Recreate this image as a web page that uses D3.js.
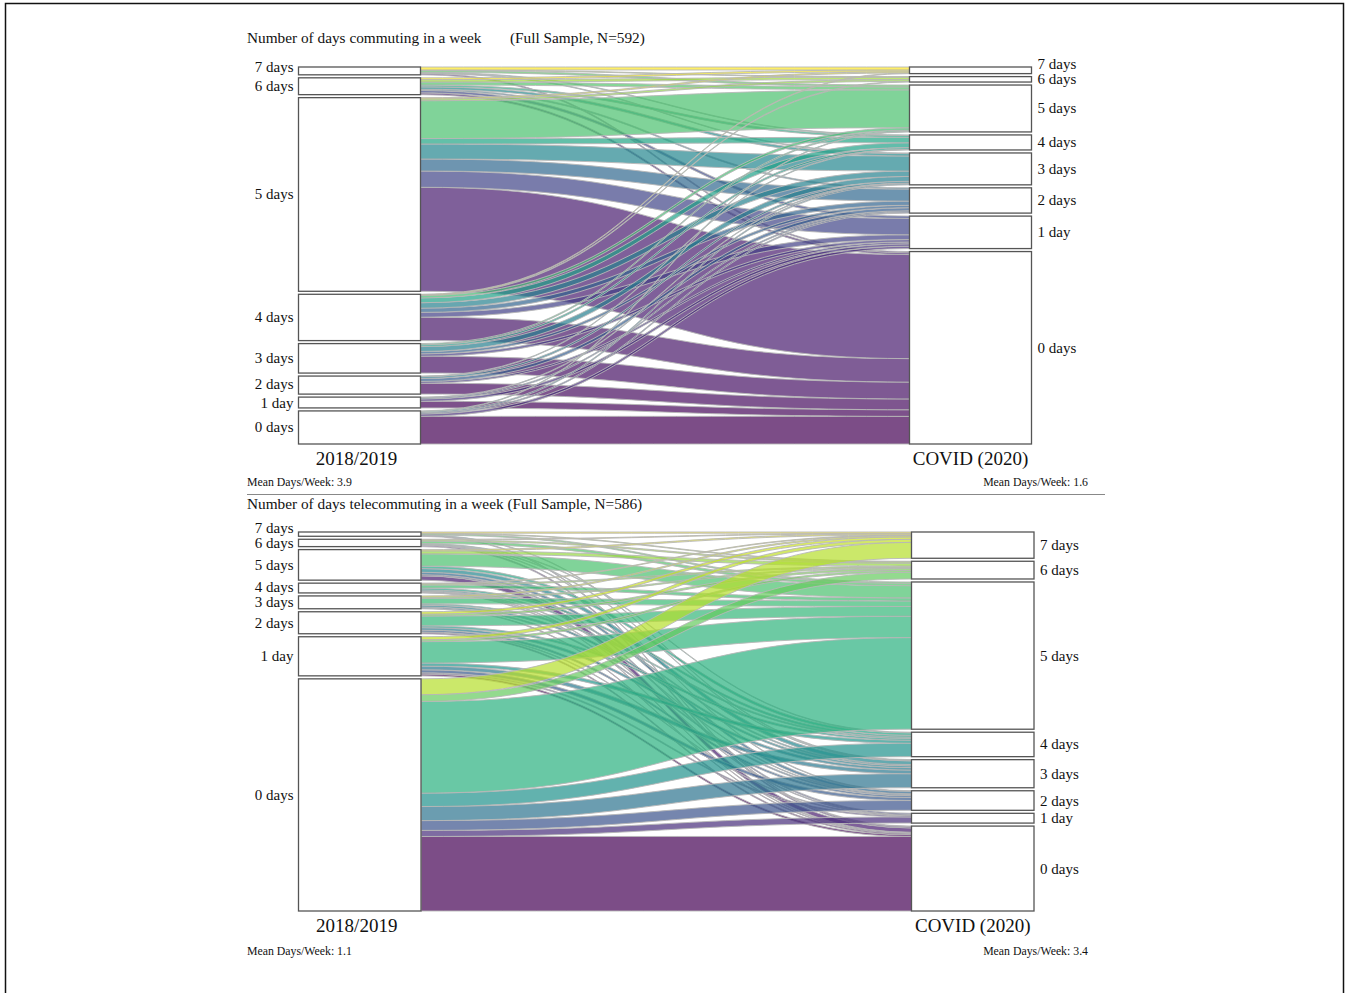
<!DOCTYPE html>
<html>
<head>
<meta charset="utf-8">
<script src="https://cdn.jsdelivr.net/npm/d3@7"></script>
<style>
  html, body { margin: 0; padding: 0; background: #fff; }
  svg { display: block; font-family: "Liberation Serif", "Times New Roman", serif; }
</style>
</head>
<body>
<svg id="chart" width="1345" height="993"></svg>
<script>
// categories (top to bottom, same order on both axes)
const dayLevels = ["7 days", "6 days", "5 days", "4 days", "3 days", "2 days", "1 day", "0 days"];
const dayValues = [7, 6, 5, 4, 3, 2, 1, 0];
const axisLabels = ["2018/2019", "COVID (2020)"];

// respondents moving from 2018/2019 level (row) to COVID (2020) level (column)
const commuteFlows = [
  [5, 1, 3, 1, 1, 0, 0, 2],
  [3, 4, 5, 3, 4, 2, 4, 3],
  [2, 3, 63, 9, 25, 20, 27, 173],
  [1, 1, 4, 8, 9, 7, 8, 39],
  [0, 0, 2, 3, 8, 4, 4, 28],
  [0, 0, 0, 1, 3, 5, 3, 18],
  [0, 0, 0, 0, 1, 2, 4, 11],
  [0, 0, 1, 0, 2, 2, 4, 46]
];
const teleFlows = [
  [2, 1, 2, 0, 1, 0, 0, 1],
  [1, 2, 4, 1, 1, 1, 0, 2],
  [2, 5, 20, 4, 6, 4, 2, 7],
  [1, 2, 5, 3, 2, 1, 1, 1],
  [2, 2, 9, 2, 3, 2, 0, 1],
  [4, 3, 16, 3, 4, 3, 1, 2],
  [5, 3, 35, 5, 6, 5, 2, 3],
  [26, 11, 150, 22, 23, 16, 10, 122]
];

const commuteTitle = ["Number of days commuting in a week", "(Full Sample, N=592)"];
const teleTitle = ["Number of days telecommuting in a week (Full Sample, N=586)", ""];
const commuteMeans = ["Mean Days/Week: 3.9", "Mean Days/Week: 1.6"];
const teleMeans = ["Mean Days/Week: 1.1", "Mean Days/Week: 3.4"];

const svg = d3.select("#chart");

// page frame
svg.append("rect")
  .attr("x", 5.5).attr("y", 3.5)
  .attr("width", 1338).attr("height", 1100)
  .attr("fill", "none").attr("stroke", "#111").attr("stroke-width", 1.5);

function drawPanel(g, flows, titles, means, box) {
  const n = dayLevels.length;
  const total = d3.sum(flows.flat());
  const gap = 3;
  const y = d3.scaleLinear().domain([0, total])
    .range([0, box.bottom - box.top - gap * (n - 1)]);

  const leftTotals = flows.map(r => d3.sum(r));
  const rightTotals = dayLevels.map((_, j) => d3.sum(flows, r => r[j]));

  function stack(totals) {
    let pos = box.top;
    return totals.map(t => {
      const node = { y0: pos, y1: pos + y(t) };
      pos = node.y1 + gap;
      return node;
    });
  }
  const leftNodes = stack(leftTotals);
  const rightNodes = stack(rightTotals);

  // lodes: left ordered by destination, right ordered by origin
  const links = [];
  const leftOff = leftNodes.map(d => d.y0);
  flows.forEach((row, i) => row.forEach((v, j) => {
    if (v > 0) {
      links.push({ s: i, t: j, v, ly0: leftOff[i], ly1: leftOff[i] + y(v) });
      leftOff[i] += y(v);
    }
  }));
  const rightOff = rightNodes.map(d => d.y0);
  dayLevels.forEach((_, j) => {
    dayLevels.forEach((_, i) => {
      const l = links.find(k => k.s === i && k.t === j);
      if (l) { l.ry0 = rightOff[j]; l.ry1 = rightOff[j] + y(l.v); rightOff[j] += y(l.v); }
    });
  });

  // colour = position of the (destination, origin) pair in the full grid, 0 days first
  const grid = n * n - 1;
  links.forEach(l => { l.key = dayValues[l.t] * n + dayValues[l.s]; });
  links.sort((a, b) => a.key - b.key);
  const color = d3.scaleSequential(d3.interpolateViridis).domain([0, grid]);

  const x0 = box.lx1, x1 = box.rx0, xm = (x0 + x1) / 2;
  g.append("g").selectAll("path")
    .data(links)
    .join("path")
    .attr("d", d => `M${x0},${d.ly0}C${xm},${d.ly0} ${xm},${d.ry0} ${x1},${d.ry0}` +
      `L${x1},${d.ry1}C${xm},${d.ry1} ${xm},${d.ly1} ${x0},${d.ly1}Z`)
    .attr("fill", d => color(d.key))
    .attr("fill-opacity", 0.7)
    .attr("stroke", "#b8b8b8")
    .attr("stroke-width", 0.9);

  // strata boxes
  const boxStyle = sel => sel
    .attr("fill", "#fff").attr("stroke", "#555").attr("stroke-width", 1.3);
  g.append("g").selectAll("rect").data(leftNodes).join("rect")
    .attr("x", box.lx0).attr("width", box.lx1 - box.lx0)
    .attr("y", d => d.y0).attr("height", d => d.y1 - d.y0)
    .call(boxStyle);
  g.append("g").selectAll("rect").data(rightNodes).join("rect")
    .attr("x", box.rx0).attr("width", box.rx1 - box.rx0)
    .attr("y", d => d.y0).attr("height", d => d.y1 - d.y0)
    .call(boxStyle);

  // stratum labels, pushed up when they would collide
  function labelY(nodes, minGap) {
    const ys = nodes.map(d => (d.y0 + d.y1) / 2);
    for (let i = ys.length - 2; i >= 0; i--) ys[i] = Math.min(ys[i], ys[i + 1] - minGap);
    return ys;
  }
  const lY = labelY(leftNodes, box.leftGap), rY = labelY(rightNodes, 15);
  g.append("g").selectAll("text").data(dayLevels).join("text")
    .attr("x", box.lx0 - 5).attr("y", (d, i) => lY[i])
    .attr("text-anchor", "end").attr("dominant-baseline", "central")
    .attr("font-size", 15).attr("fill", "#111").text(d => d);
  g.append("g").selectAll("text").data(dayLevels).join("text")
    .attr("x", box.rx1 + 6).attr("y", (d, i) => rY[i])
    .attr("text-anchor", "start").attr("dominant-baseline", "central")
    .attr("font-size", 15).attr("fill", "#111").text(d => d);

  // axis labels
  g.append("text").attr("x", (box.lx0 + box.lx1) / 2 - 3).attr("y", box.bottom + 14)
    .attr("text-anchor", "middle").attr("dominant-baseline", "central")
    .attr("font-size", 19).attr("fill", "#111").text(axisLabels[0]);
  g.append("text").attr("x", (box.rx0 + box.rx1) / 2).attr("y", box.bottom + 14)
    .attr("text-anchor", "middle").attr("dominant-baseline", "central")
    .attr("font-size", 19).attr("fill", "#111").text(axisLabels[1]);

  // title
  g.append("text").attr("x", 247).attr("y", box.titleY)
    .attr("dominant-baseline", "central").attr("font-size", 15.3).attr("fill", "#111")
    .text(titles[0]);
  if (titles[1]) {
    g.append("text").attr("x", 510).attr("y", box.titleY)
      .attr("dominant-baseline", "central").attr("font-size", 15.3).attr("fill", "#111")
      .text(titles[1]);
  }

  // means
  g.append("text").attr("x", 247).attr("y", box.meanY)
    .attr("dominant-baseline", "central").attr("font-size", 11.8).attr("fill", "#111")
    .text(means[0]);
  g.append("text").attr("x", 1088).attr("y", box.meanY)
    .attr("text-anchor", "end")
    .attr("dominant-baseline", "central").attr("font-size", 11.8).attr("fill", "#111")
    .text(means[1]);
}

drawPanel(svg.append("g"), commuteFlows, commuteTitle, commuteMeans, {
  top: 67, bottom: 444, lx0: 298.5, lx1: 420.5, rx0: 909.5, rx1: 1031.5,
  titleY: 37, meanY: 482, leftGap: 19
});

svg.append("line")
  .attr("x1", 247).attr("x2", 1105).attr("y1", 494.5).attr("y2", 494.5)
  .attr("stroke", "#888").attr("stroke-width", 1);

drawPanel(svg.append("g"), teleFlows, teleTitle, teleMeans, {
  top: 532, bottom: 911, lx0: 298.5, lx1: 421, rx0: 911.5, rx1: 1034,
  titleY: 503, meanY: 951, leftGap: 15
});
</script>
</body>
</html>
